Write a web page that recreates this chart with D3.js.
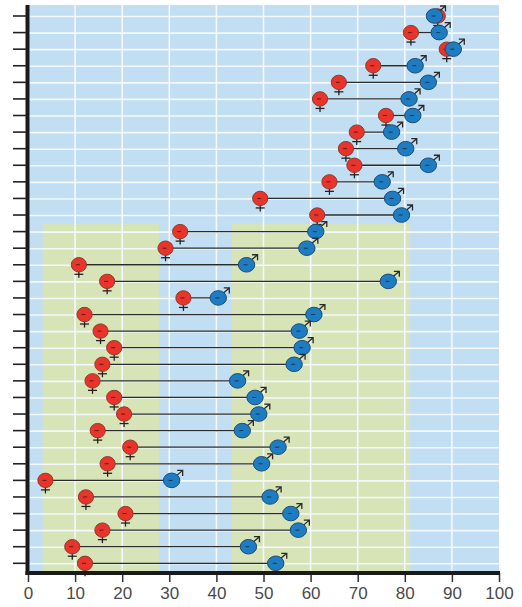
<!DOCTYPE html>
<html>
<head>
<meta charset="utf-8">
<script src="https://cdn.jsdelivr.net/npm/d3@7"></script>
<style>
  html, body { margin: 0; padding: 0; background: #fff; }
  svg { display: block; }
</style>
</head>
<body>
<svg id="chart" width="522" height="607"></svg>
<script>
// ---- data (top to bottom rows) ----
const rows = d3.range(34).map(i => "r" + (i + 1));
const female = [87.0, 81.3, 88.9, 73.3, 66.0, 62.0, 76.0, 69.8, 67.5, 69.3, 64.0, 49.3,
                61.4, 32.3, 29.2, 10.8, 16.8, 33.0, 12.0, 15.4, 18.3, 15.8, 13.7, 18.3,
                20.4, 14.8, 21.7, 16.9, 3.7, 12.3, 20.7, 15.8, 9.4, 12.1];
const male   = [86.3, 87.3, 90.3, 82.2, 85.0, 80.9, 81.7, 77.2, 80.2, 85.0, 75.2, 77.4,
                79.3, 61.1, 59.2, 46.4, 76.5, 40.4, 60.7, 57.6, 58.2, 56.5, 44.5, 48.2,
                49.0, 45.5, 53.1, 49.6, 30.5, 51.4, 55.8, 57.4, 46.8, 52.6];
const xTicks = [0, 10, 20, 30, 40, 50, 60, 70, 80, 90, 100];
const greenBands = [[3.1, 27.9], [43.2, 81.1]];
const greenStartRow = 13;

const svg = d3.select("#chart");
const x = d3.scaleLinear().domain([0, 100]).range([28, 499]);
const y = d3.scalePoint().domain(rows).range([16, 563.3]);
const step = y.step();
const plotTop = 5, plotBottom = 573;

// background
svg.append("rect").attr("x", x(0)).attr("y", plotTop)
  .attr("width", x(100) - x(0)).attr("height", plotBottom - plotTop).attr("fill", "#c1def2");

// green bands
const gTop = y(rows[greenStartRow]) - step / 2 + 0.5;
svg.selectAll("rect.band").data(greenBands).join("rect")
  .attr("class", "band")
  .attr("x", d => x(d[0])).attr("width", d => x(d[1]) - x(d[0]))
  .attr("y", gTop).attr("height", plotBottom - gTop)
  .attr("fill", "#d6e4b8");

// white grid
svg.selectAll("line.hg").data(rows).join("line")
  .attr("class", "hg")
  .attr("x1", x(0)).attr("x2", x(100))
  .attr("y1", d => y(d) + 0.5).attr("y2", d => y(d) + 0.5)
  .attr("stroke", "#f4f8fb").attr("stroke-width", 1.6);
svg.selectAll("line.vg").data(xTicks.slice(1, -1)).join("line")
  .attr("class", "vg")
  .attr("x1", d => x(d)).attr("x2", d => x(d))
  .attr("y1", plotTop).attr("y2", plotBottom)
  .attr("stroke", "#f4f8fb").attr("stroke-width", 1.6);

// connecting lines
const idx = d3.range(rows.length);
svg.selectAll("line.conn").data(idx).join("line")
  .attr("class", "conn")
  .attr("x1", i => x(female[i])).attr("x2", i => x(male[i]))
  .attr("y1", i => y(rows[i])).attr("y2", i => y(rows[i]))
  .attr("stroke", "#2b2b2b").attr("stroke-width", 1.3);

// female markers
const fg = svg.selectAll("g.f").data(idx).join("g")
  .attr("class", "f")
  .attr("transform", i => `translate(${x(female[i])},${y(rows[i])})`);
fg.append("line").attr("x1", 0).attr("x2", 0).attr("y1", 6).attr("y2", 13)
  .attr("stroke", "#222").attr("stroke-width", 1.3);
fg.append("line").attr("x1", -4.5).attr("x2", 4.5).attr("y1", 9.5).attr("y2", 9.5)
  .attr("stroke", "#222").attr("stroke-width", 1.3);
fg.append("ellipse").attr("rx", 7.6).attr("ry", 7.2)
  .attr("fill", "#e8342a").attr("stroke", "#8f3a2c").attr("stroke-width", 1);
fg.append("line").attr("x1", -3).attr("x2", 1).attr("y1", 0).attr("y2", 0)
  .attr("stroke", "#5a1d14").attr("stroke-width", 1);

// male markers
const mg = svg.selectAll("g.m").data(idx).join("g")
  .attr("class", "m")
  .attr("transform", i => `translate(${x(male[i])},${y(rows[i])})`);
mg.append("path").attr("d", "M4,-4 L11,-10 M5.5,-10 L11,-10 L11,-4.5")
  .attr("fill", "none").attr("stroke", "#2a2a2a").attr("stroke-width", 1.3);
mg.append("ellipse").attr("rx", 8.2).attr("ry", 7.3)
  .attr("fill", "#1e7cc2").attr("stroke", "#1f4c70").attr("stroke-width", 1);
mg.append("line").attr("x1", -3).attr("x2", 1).attr("y1", 0).attr("y2", 0)
  .attr("stroke", "#12395a").attr("stroke-width", 1);

// left axis
svg.append("line").attr("x1", 27.5).attr("x2", 27.5).attr("y1", plotTop).attr("y2", plotBottom + 2)
  .attr("stroke", "#1a1a1a").attr("stroke-width", 4);
svg.selectAll("line.yt").data(rows).join("line")
  .attr("class", "yt")
  .attr("x1", 13).attr("x2", 27).attr("y1", d => y(d)).attr("y2", d => y(d))
  .attr("stroke", "#222").attr("stroke-width", 1.6);

// bottom axis
const xAxis = d3.axisBottom(x).tickValues(xTicks).tickSize(9).tickPadding(5)
  .tickFormat(d3.format("d"));
const ax = svg.append("g").attr("transform", `translate(0,${plotBottom})`).call(xAxis);
ax.select(".domain").remove();
ax.selectAll(".tick line").attr("stroke", "#333").attr("stroke-width", 1.5);
ax.selectAll(".tick text").attr("fill", "#4a4a4a")
  .attr("font-family", "Liberation Sans, Arial, sans-serif").attr("font-size", 17);
svg.append("line").attr("x1", 25.5).attr("x2", x(100) + 1).attr("y1", plotBottom).attr("y2", plotBottom)
  .attr("stroke", "#1a1a1a").attr("stroke-width", 4);
</script>
</body>
</html>
